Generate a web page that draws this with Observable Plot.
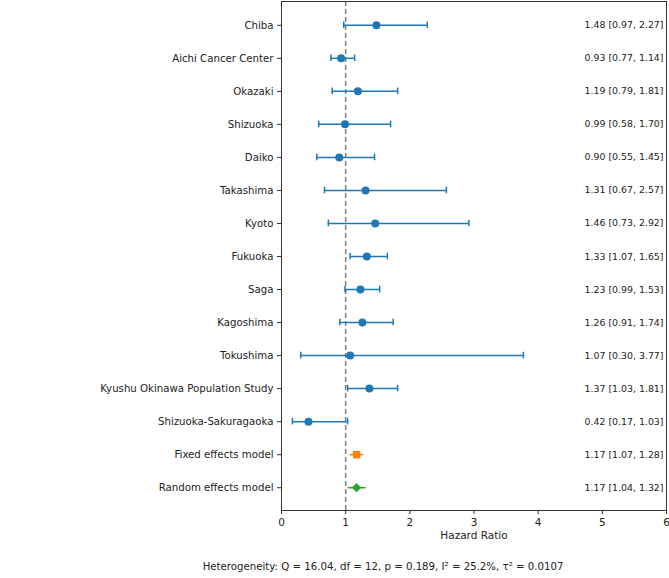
<!DOCTYPE html>
<html>
<head>
<meta charset="utf-8">
<script src="https://cdn.jsdelivr.net/npm/d3@7"></script>
<script src="https://cdn.jsdelivr.net/npm/@observablehq/plot@0.6"></script>
<style>
  body { margin: 0; background: #fff; font-family: "DejaVu Sans", sans-serif; }
  #wrap { position: relative; width: 669px; height: 578px; }
  #cap { position: absolute; left: 0; top: 560px; width: 766px; text-align: center; font-size: 10.2px; color: #222; line-height: 14px; white-space: nowrap; }
</style>
</head>
<body>
<div id="wrap"><div id="chart"></div><div id="cap">Heterogeneity: Q = 16.04, df = 12, p = 0.189, I² = 25.2%, τ² = 0.0107</div></div>
<script>
const studies = ["Chiba", "Aichi Cancer Center", "Okazaki", "Shizuoka", "Daiko", "Takashima", "Kyoto", "Fukuoka", "Saga", "Kagoshima", "Tokushima", "Kyushu Okinawa Population Study", "Shizuoka-Sakuragaoka", "Fixed effects model", "Random effects model"];
const hr = [1.48, 0.93, 1.19, 0.99, 0.90, 1.31, 1.46, 1.33, 1.23, 1.26, 1.07, 1.37, 0.42, 1.17, 1.17];
const lo = [0.97, 0.77, 0.79, 0.58, 0.55, 0.67, 0.73, 1.07, 0.99, 0.91, 0.30, 1.03, 0.17, 1.07, 1.04];
const hi = [2.27, 1.14, 1.81, 1.70, 1.45, 2.57, 2.92, 1.65, 1.53, 1.74, 3.77, 1.81, 1.03, 1.28, 1.32];
const kinds = ["study","study","study","study","study","study","study","study","study","study","study","study","study","fixed","random"];
const xTicks = [0, 1, 2, 3, 4, 5, 6];

const fmt = d3.format(".2f");
const data = studies.map((s, i) => ({i, name: s, hr: hr[i], lo: lo[i], hi: hi[i], kind: kinds[i],
  label: `${fmt(hr[i])} [${fmt(lo[i])}, ${fmt(hi[i])}]`}));
const st = data.filter(d => d.kind === "study");
const fx = data.filter(d => d.kind === "fixed");
const rd = data.filter(d => d.kind === "random");
const colors = {study: "#1f77b4", fixed: "#ff7f0e", random: "#2ca02c"};

const chart = Plot.plot({
  width: 669,
  height: 545,
  marginLeft: 281,
  marginRight: 3,
  marginTop: 1,
  marginBottom: 35,
  style: {fontFamily: "DejaVu Sans, sans-serif", fontSize: "10px", color: "#222", background: "#fff"},
  x: {domain: [0, 6]},
  y: {domain: [-0.72, 14.69], reverse: true},
  marks: [
    Plot.ruleX([1], {stroke: "#7f7f7f", strokeWidth: 1.5, strokeDasharray: "5,3"}),
    Plot.ruleY(data, {y: "i", x1: "lo", x2: "hi", stroke: d => colors[d.kind], strokeWidth: 1.5}),
    Plot.ruleX(st, {x: "lo", y1: d => d.i - 0.1, y2: d => d.i + 0.1, stroke: colors.study, strokeWidth: 1.5}),
    Plot.ruleX(st, {x: "hi", y1: d => d.i - 0.1, y2: d => d.i + 0.1, stroke: colors.study, strokeWidth: 1.5}),
    Plot.dot(st, {x: "hr", y: "i", r: 4, fill: colors.study, stroke: "none"}),
    Plot.dot(fx, {x: "hr", y: "i", r: 4.2, symbol: "square", fill: colors.fixed, stroke: "none"}),
    Plot.dot(rd, {x: "hr", y: "i", r: 4.2, symbol: "diamond2", fill: colors.random, stroke: "none"}),
    Plot.text(data, {y: "i", text: "label", frameAnchor: "right", textAnchor: "end", dx: -3, fontSize: 9.4, fill: "#222"}),
    Plot.axisY({ticks: data.map(d => d.i), tickFormat: i => studies[i], tickSize: 4, tickPadding: 4, fontSize: 10.2, label: null, stroke: "#333"}),
    Plot.axisX({ticks: xTicks, tickFormat: d3.format("d"), tickSize: 4, tickPadding: 4, fontSize: 10.5, label: "Hazard Ratio", labelAnchor: "center", labelArrow: "none", labelOffset: 28, stroke: "#333"}),
    Plot.frame({stroke: "#333", strokeWidth: 1})
  ]
});
document.getElementById("chart").appendChild(chart);
</script>
</body>
</html>
